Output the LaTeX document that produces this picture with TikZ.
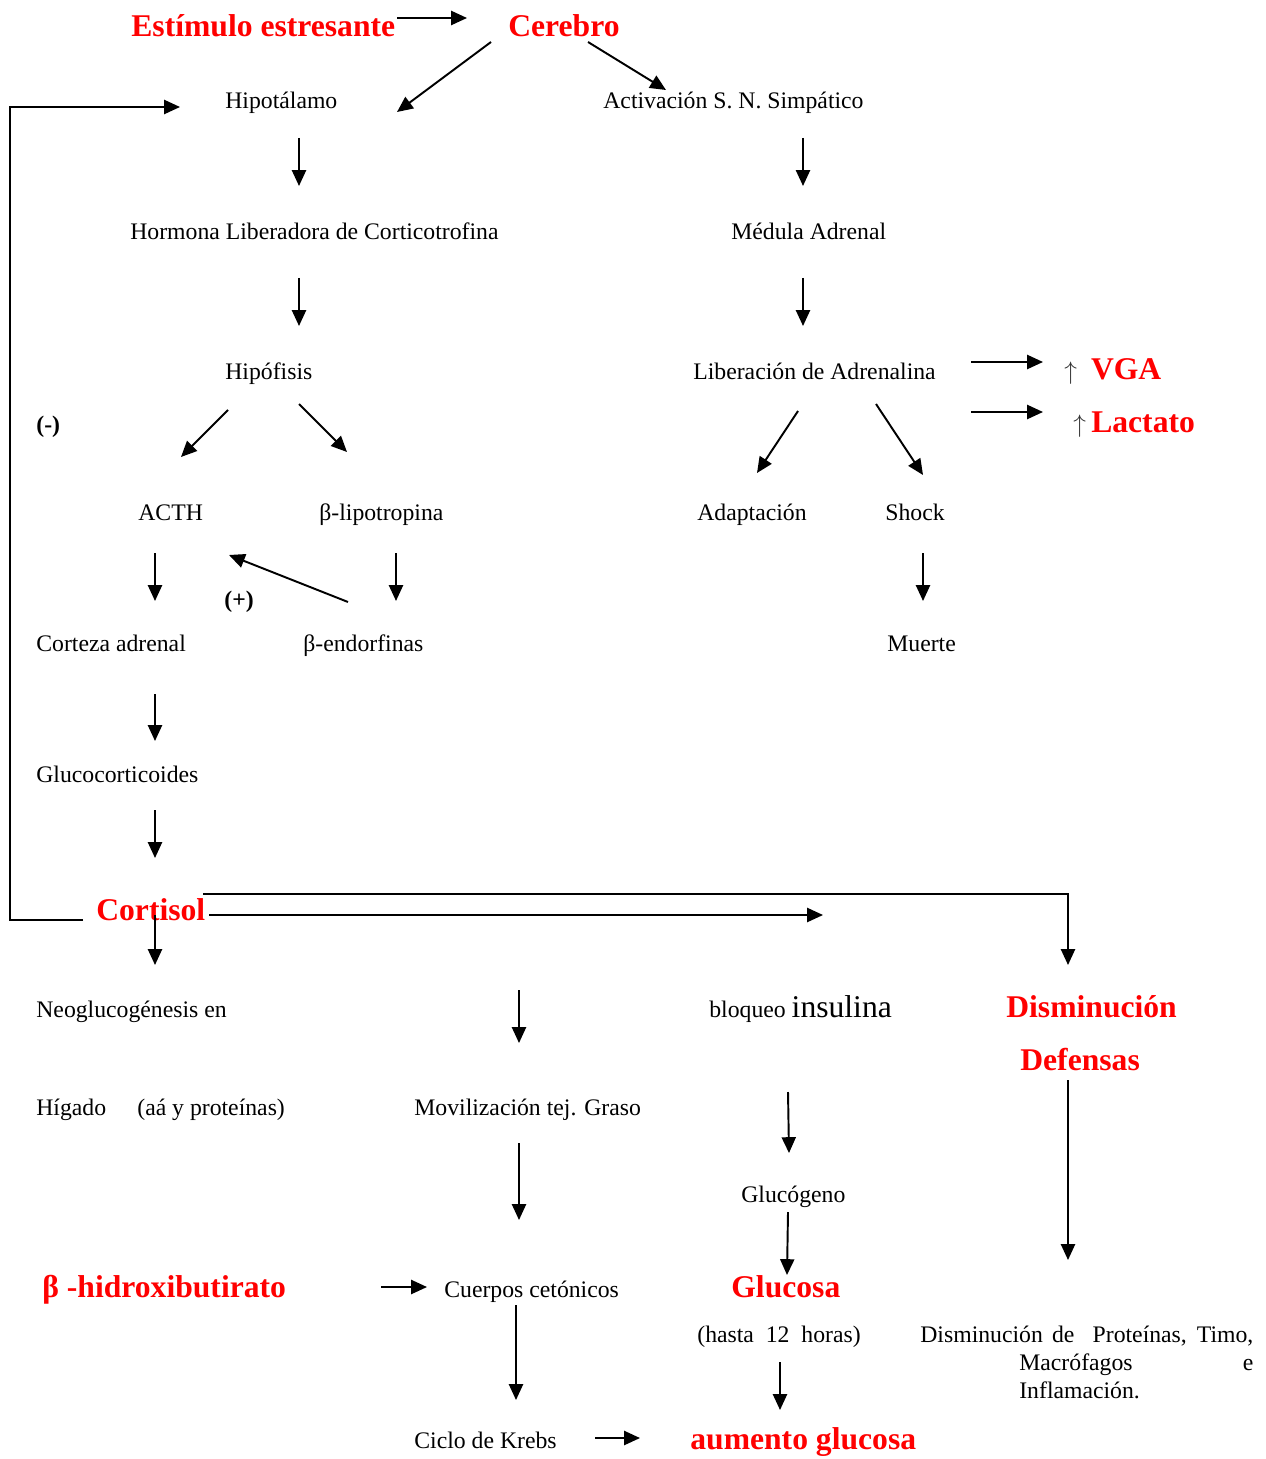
\documentclass[tikz,border=0pt]{standalone}
\usepackage{fontspec}
\setmainfont{Liberation Serif}
\usepackage{xcolor}
\definecolor{Pure Red}{HTML}{FF0000}
\definecolor{Arrow Grey}{HTML}{333333}
\colorlet{cRed}{Pure Red}
\colorlet{cGrey}{Arrow Grey}
\usepackage{tikz}
\usetikzlibrary{arrows.meta}
\tikzset{
	line width = 1.1pt,
	>={Triangle[length=9pt,width=8pt]},
	lbl/.style={
		anchor=base west,
		inner sep=0pt,
		font=\fontsize{13.5}{16}\selectfont
	},
	key/.style={
		anchor=base west,
		inner sep=0pt,
		text=cRed,
		font=\fontsize{18}{21}\selectfont\bfseries
	},
	sign/.style={
		lbl,
		font=\fontsize{13.5}{16}\selectfont\bfseries
	},
	edge/.style={
		->,
		line width=1.1pt
	}
}

\begin{document}
\begin{tikzpicture}[x=0.02cm, y=-0.02cm]
		\useasboundingbox (0,0) rectangle (1265,1459);

		% top
		\node[key] (estimulo) at (131,37) {Estímulo estresante};
		\node[key] (cerebro) at (508,37) {Cerebro};
		\node[lbl] (hipot) at (225,109) {Hipotálamo};
		\node[lbl] (activ) at (603,109) {Activación S. N. Simpático};

		% left branch
		\node[lbl] (hormona) at (130,240) {Hormona Liberadora de Corticotrofina};
		\node[lbl] (hipof) at (225,379) {Hipófisis};
		\node[sign] (menos) at (36,432) {(-)};
		\node[lbl] (acth) at (138,520) {ACTH};
		\node[lbl] (lipo) at (319,520) {β-lipotropina};
		\node[sign] (mas) at (224,607) {(+)};
		\node[lbl] (corteza) at (36,651) {Corteza adrenal};
		\node[lbl] (endorf) at (303,651) {β-endorfinas};
		\node[lbl] (gluco) at (36,782) {Glucocorticoides};
		\node[key] (cortisol) at (96,920) {Cortisol};

		% right branch
		\node[lbl] (medula) at (731,240) {Médula Adrenal};
		\node[lbl] (liber) at (693,379) {Liberación de Adrenalina};
		\node[key] (vga) at (1064,379) {{\fontsize{13.5}{16}\mdseries\color{cGrey}$\uparrow$}\hspace{0.28cm}VGA};
		\node[key] (lactato) at (1073,432) {{\fontsize{13.5}{16}\mdseries\color{cGrey}$\uparrow$}\,Lactato};
		\node[lbl] (adapt) at (697,520) {Adaptación};
		\node[lbl] (shock) at (885,520) {Shock};
		\node[lbl] (muerte) at (887,651) {Muerte};

		% cortisol effects
		\node[lbl] (neoglu) at (36,1017) {Neoglucogénesis en};
		\node[lbl] (higado) at (36,1115) {Hígado};
		\node[lbl] (aa) at (137,1115) {(aá y proteínas)};
		\node[lbl] (bloqueo) at (709,1017) {bloqueo {\fontsize{18}{21}\selectfont insulina}};
		\node[key] (dismin) at (1006,1017) {Disminución};
		\node[key] (defensas) at (1020,1070) {Defensas};
		\node[lbl] (movil) at (414,1115) {Movilización tej. Graso};
		\node[lbl] (glucog) at (741,1202) {Glucógeno};
		\node[key] (hidroxi) at (42,1297) {β -hidroxibutirato};
		\node[lbl] (cuerpos) at (444,1297) {Cuerpos cetónicos};
		\node[key] (glucosa) at (731,1297) {Glucosa};
		\node[lbl] (hasta) at (697,1342) {(hasta\ \ 12\ \ horas)};
		\node[lbl] (block) at (920,1342) {\parbox[t]{6.66cm}{\hangindent=1.98cm\hangafter=1
			Disminución de\ \ Proteínas, Timo,\linebreak Macrófagos\hfill e\\Inflamación.}};
		\node[lbl] (krebs) at (414,1448) {Ciclo de Krebs};
		\node[key] (aumento) at (690,1449) {aumento glucosa};

		% arrows, top and left
		\draw[edge] ([shift={(266,-19)}]estimulo.base west) -- ([shift={(-41,-19)}]cerebro.base west);
		\draw[edge] ([shift={(-17,5)}]cerebro.base west) -- ([shift={(172,3)}]hipot.base west);
		\draw[edge] ([shift={(80,5)}]cerebro.base west) -- ([shift={(63,-19)}]activ.base west);
		\draw[edge] ([shift={(74,29)}]hipot.base west) -- ([shift={(169,-54)}]hormona.base west);
		\draw[edge] ([shift={(169,38)}]hormona.base west) -- ([shift={(74,-53)}]hipof.base west);
		\draw[edge] ([shift={(3,31)}]hipof.base west) -- ([shift={(43,-63)}]acth.base west);
		\draw[edge] ([shift={(74,25)}]hipof.base west) -- ([shift={(28,-68)}]lipo.base west);
		\draw[edge] ([shift={(17,33)}]acth.base west) -- ([shift={(119,-50)}]corteza.base west);
		\draw[edge] ([shift={(77,33)}]lipo.base west) -- ([shift={(93,-50)}]endorf.base west);
		\draw[edge] ([shift={(45,-49)}]endorf.base west) -- ([shift={(91,35)}]acth.base west);
		\draw[edge] ([shift={(119,43)}]corteza.base west) -- ([shift={(119,-41)}]gluco.base west);
		\draw[edge] ([shift={(119,28)}]gluco.base west) -- ([shift={(59,-62)}]cortisol.base west);

		% arrows, right
		\draw[edge] ([shift={(200,29)}]activ.base west) -- ([shift={(72,-54)}]medula.base west);
		\draw[edge] ([shift={(72,38)}]medula.base west) -- ([shift={(110,-53)}]liber.base west);
		\draw[edge] ([shift={(278,-17)}]liber.base west) -- ([shift={(-21,-17)}]vga.base west);
		\draw[edge] ([shift={(278,33)}]liber.base west) -- ([shift={(-30,-20)}]lactato.base west);
		\draw[edge] ([shift={(105,32)}]liber.base west) -- ([shift={(60,-47)}]adapt.base west);
		\draw[edge] ([shift={(183,25)}]liber.base west) -- ([shift={(38,-45)}]shock.base west);
		\draw[edge] ([shift={(38,33)}]shock.base west) -- ([shift={(36,-50)}]muerte.base west);

		% feedback (-)
		\draw[edge] ([shift={(-13,0)}]cortisol.base west) -- ++(-73,0) |- ([shift={(-45,-2)}]hipot.base west);

		% arrows from cortisol
		\draw[edge] ([shift={(59,-5)}]cortisol.base west) -- ([shift={(119,-52)}]neoglu.base west);
		\draw[edge] ([shift={(113,-5)}]cortisol.base west) -- ([shift={(114,-102)}]bloqueo.base west);
		\draw[edge] ([shift={(107,-26)}]cortisol.base west) -| ([shift={(62,-52)}]dismin.base west);
		\draw[edge] ([shift={(105,-125)}]movil.base west) -- ([shift={(105,-72)}]movil.base west);

		% lower part
		\draw[edge] ([shift={(79,75)}]bloqueo.base west) -- ([shift={(48,-49)}]glucog.base west);
		\draw[edge] ([shift={(48,10)}]defensas.base west) -- ([shift={(148,-82)}]block.base west);
		\draw[edge] ([shift={(105,28)}]movil.base west) -- ([shift={(75,-77)}]cuerpos.base west);
		\draw[edge] ([shift={(47,10)}]glucog.base west) -- ([shift={(56,-22)}]glucosa.base west);
		\draw[edge] ([shift={(339,-10)}]hidroxi.base west) -- ([shift={(-17,-10)}]cuerpos.base west);
		\draw[edge] ([shift={(72,8)}]cuerpos.base west) -- ([shift={(102,-48)}]krebs.base west);
		\draw[edge] ([shift={(83,20)}]hasta.base west) -- ([shift={(90,-39)}]aumento.base west);
		\draw[edge] ([shift={(181,-10)}]krebs.base west) -- ([shift={(-50,-11)}]aumento.base west);
	\end{tikzpicture}
\end{document}
